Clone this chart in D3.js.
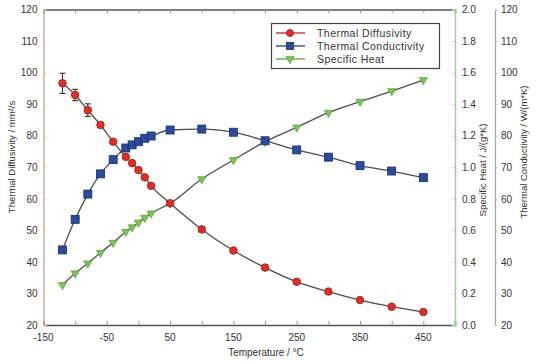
<!DOCTYPE html>
<html>
<head>
<meta charset="utf-8">
<script src="https://cdn.jsdelivr.net/npm/d3@7"></script>
<style>
  body { margin: 0; background: #fff; }
  text { font-family: "Liberation Sans", Arial, sans-serif; fill: #333; }
</style>
</head>
<body>
<div id="chart"></div>
<script>
const width = 536;
const height = 364;

// data
const temps = [-120, -100, -80, -60, -40, -20, -10, 0, 10, 20, 50, 100, 150, 200, 250, 300, 350, 400, 450];
const diffusivity = [96.6, 92.9, 88.1, 83.4, 78.1, 73.3, 71.3, 69.1, 66.8, 64.1, 58.6, 50.3, 43.6, 38.2, 33.7, 30.6, 27.9, 25.8, 24.1];
const diffError = [3.2, 1.8, 2.0, 0.8, 0.6, 0.4, 0.3, 0.3, 0.3, 0.3, 0.3, 0.3, 0.3, 0.3, 0.3, 0.3, 0.3, 0.3, 0.3];
const conductivity = [43.8, 53.5, 61.5, 67.9, 72.4, 76.1, 77.1, 78.1, 79.2, 79.9, 81.8, 82.1, 81.1, 78.4, 75.5, 73.2, 70.5, 68.8, 66.7];
const specificHeat = [0.254, 0.328, 0.391, 0.458, 0.522, 0.591, 0.62, 0.65, 0.68, 0.708, 0.771, 0.925, 1.046, 1.162, 1.253, 1.346, 1.416, 1.483, 1.553];

const xTicks = [-150, -100, -50, 0, 50, 100, 150, 200, 250, 300, 350, 400, 450, 500];
const xLabels = [-150, -50, 50, 150, 250, 350, 450];
const leftTicks = d3.range(20, 121, 10);
const heatTicks = d3.range(0, 2.01, 0.2);
const condTicks = d3.range(20, 121, 10);

const seriesNames = ["Thermal Diffusivity", "Thermal Conductivity", "Specific Heat"];

const plotLeft = 43.5, plotRight = 455, plotTop = 9.5, plotBottom = 325;
const outerAxis = 495;

var svg = d3.select("#chart").append("svg")
  .attr("width", width)
  .attr("height", height);

var x = d3.scaleLinear().domain([-150, 500]).range([plotLeft, plotRight]);
var yD = d3.scaleLinear().domain([20, 120]).range([plotBottom, plotTop]);
var yH = d3.scaleLinear().domain([0, 2]).range([plotBottom, plotTop]);
var yK = d3.scaleLinear().domain([20, 120]).range([plotBottom, plotTop]);

const lineColor = "#4d4d4d";
const red = "#dc2f2a", redDark = "#a11a16";
const blue = "#2c4b9b", blueDark = "#182c6a";
const green = "#7dc256", greenDark = "#4f8f36";

// axes
var bottomAxis = svg.append("g").attr("transform", `translate(0,${plotBottom})`)
  .call(d3.axisBottom(x).tickValues(xTicks).tickSize(-4).tickFormat(""));
var topAxis = svg.append("g").attr("transform", `translate(0,${plotTop})`)
  .call(d3.axisTop(x).tickValues(xTicks).tickSize(-4).tickFormat(""));
[bottomAxis, topAxis].forEach(g => {
  g.select(".domain").attr("stroke", "#555").attr("stroke-width", 1.6);
  g.selectAll(".tick line").attr("stroke", "#999");
});

svg.append("g").selectAll("text").data(xLabels).enter().append("text")
  .attr("x", d => x(d))
  .attr("y", plotBottom + 16)
  .attr("text-anchor", "middle")
  .style("font-size", "10px")
  .text(d => d);

var leftAxis = svg.append("g").attr("transform", `translate(${plotLeft},0)`)
  .call(d3.axisLeft(yD).tickValues(leftTicks).tickSize(-3).tickPadding(6));
leftAxis.select(".domain").attr("stroke", "#d2aa88").attr("stroke-width", 1.4);
leftAxis.selectAll(".tick line").attr("stroke", "#ccc");
leftAxis.selectAll("text").style("font-size", "10px").style("font-family", "Liberation Sans, Arial, sans-serif").attr("fill", "#333");

var heatAxis = svg.append("g").attr("transform", `translate(${plotRight},0)`)
  .call(d3.axisRight(yH).tickValues(heatTicks).tickSize(-3).tickPadding(7).tickFormat(d3.format(".1f")));
heatAxis.select(".domain").attr("stroke", "#9ccd90").attr("stroke-width", 1.4);
heatAxis.selectAll(".tick line").attr("stroke", "#ccc");
heatAxis.selectAll("text").style("font-size", "10px").style("font-family", "Liberation Sans, Arial, sans-serif").attr("fill", "#333");

var condAxis = svg.append("g").attr("transform", `translate(${outerAxis},0)`)
  .call(d3.axisRight(yK).tickValues(condTicks).tickSize(2).tickPadding(4));
condAxis.select(".domain").attr("stroke", "#9ba3ba").attr("stroke-width", 1.2);
condAxis.selectAll(".tick line").attr("stroke", "#bbb");
condAxis.selectAll("text").style("font-size", "10px").style("font-family", "Liberation Sans, Arial, sans-serif").attr("fill", "#333");

// axis titles
svg.append("text")
  .attr("transform", `translate(15,157) rotate(-90)`)
  .attr("text-anchor", "middle")
  .style("font-size", "9.5px")
  .text("Thermal Diffusivity / mm²/s");
svg.append("text")
  .attr("transform", `translate(486,170) rotate(-90)`)
  .attr("text-anchor", "middle")
  .style("font-size", "9.5px")
  .text("Specific Heat / J/(g*K)");
svg.append("text")
  .attr("transform", `translate(527,152) rotate(-90)`)
  .attr("text-anchor", "middle")
  .style("font-size", "9.5px")
  .text("Thermal Conductivity / W/(m*K)");
svg.append("text")
  .attr("x", 266)
  .attr("y", 356)
  .attr("text-anchor", "middle")
  .style("font-size", "10px")
  .text("Temperature / °C");

// lines
function drawLine(values, yScale) {
  svg.append("path")
    .datum(temps.map((t, i) => [t, values[i]]))
    .attr("fill", "none")
    .attr("stroke", lineColor)
    .attr("stroke-width", 1.3)
    .attr("d", d3.line().curve(d3.curveMonotoneX).x(d => x(d[0])).y(d => yScale(d[1])));
}
drawLine(diffusivity, yD);
drawLine(conductivity, yK);
drawLine(specificHeat, yH);

// error bars on diffusivity
var err = svg.append("g").attr("stroke", "#333").attr("stroke-width", 1.1);
temps.forEach((t, i) => {
  var e = diffError[i];
  err.append("line").attr("x1", x(t)).attr("x2", x(t))
    .attr("y1", yD(diffusivity[i] + e)).attr("y2", yD(diffusivity[i] - e));
  [e, -e].forEach(s => {
    err.append("line").attr("x1", x(t) - 3).attr("x2", x(t) + 3)
      .attr("y1", yD(diffusivity[i] + s)).attr("y2", yD(diffusivity[i] + s));
  });
});

// markers
var tri = d3.symbol().type(d3.symbolTriangle).size(30);

svg.append("g").selectAll("path").data(temps).enter().append("path")
  .attr("d", tri)
  .attr("transform", (d, i) => `translate(${x(d)},${yH(specificHeat[i])}) rotate(180)`)
  .attr("fill", green)
  .attr("stroke", greenDark)
  .attr("stroke-width", 0.6);

svg.append("g").selectAll("rect").data(temps).enter().append("rect")
  .attr("x", d => x(d) - 4)
  .attr("y", (d, i) => yK(conductivity[i]) - 4)
  .attr("width", 8)
  .attr("height", 8)
  .attr("fill", blue)
  .attr("stroke", blueDark)
  .attr("stroke-width", 0.8);

svg.append("g").selectAll("circle").data(temps).enter().append("circle")
  .attr("cx", d => x(d))
  .attr("cy", (d, i) => yD(diffusivity[i]))
  .attr("r", 3.8)
  .attr("fill", red)
  .attr("stroke", redDark)
  .attr("stroke-width", 0.8);

// legend
var legend = svg.append("g");
legend.append("rect")
  .attr("x", 271.5).attr("y", 23.5)
  .attr("width", 168).attr("height", 45)
  .attr("fill", "#fff").attr("stroke", "#444").attr("stroke-width", 1.2);

const legendY = [33, 46, 59];
const legendLine = [red, blue, green];
seriesNames.forEach((name, i) => {
  var ly = legendY[i];
  legend.append("line")
    .attr("x1", 276).attr("x2", 305).attr("y1", ly).attr("y2", ly)
    .attr("stroke", d3.color(legendLine[i]).darker(0.6)).attr("stroke-width", 1.3);
  if (i === 0) {
    legend.append("circle").attr("cx", 290).attr("cy", ly).attr("r", 3.5)
      .attr("fill", red).attr("stroke", redDark).attr("stroke-width", 0.8);
  } else if (i === 1) {
    legend.append("rect").attr("x", 286.5).attr("y", ly - 3.5).attr("width", 7).attr("height", 7)
      .attr("fill", blue).attr("stroke", blueDark).attr("stroke-width", 0.8);
  } else {
    legend.append("path").attr("d", tri)
      .attr("transform", `translate(290,${ly}) rotate(180)`)
      .attr("fill", green).attr("stroke", greenDark).attr("stroke-width", 0.6);
  }
  legend.append("text")
    .attr("x", 317).attr("y", ly + 4)
    .style("font-size", "10.5px")
    .style("letter-spacing", "0.45px")
    .text(name);
});
</script>
</body>
</html>
